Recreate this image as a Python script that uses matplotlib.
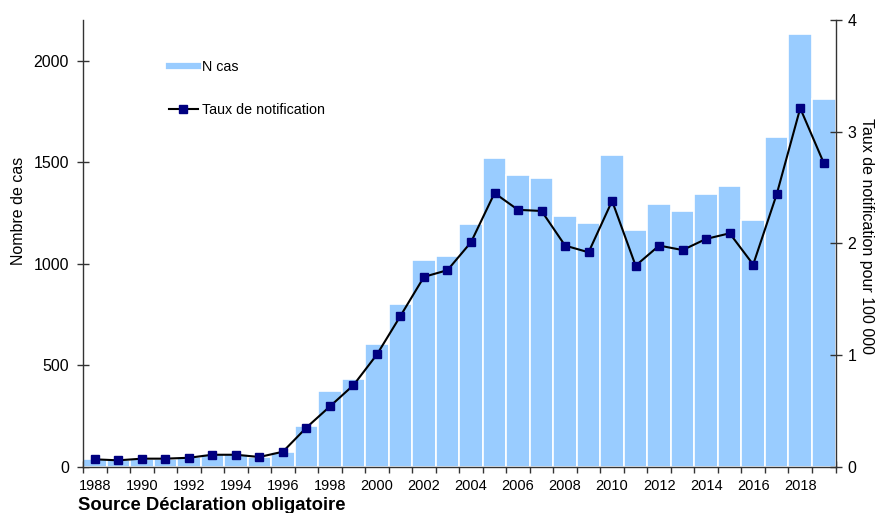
import matplotlib
matplotlib.use("Agg")
import matplotlib.pyplot as plt
from matplotlib.lines import Line2D
import numpy as np

years = list(range(1988, 2020))
n_cas = [38, 34, 40, 40, 46, 62, 62, 50, 74, 200, 374, 433, 603, 800, 1016, 1037,
         1197, 1521, 1439, 1424, 1237, 1202, 1536, 1164, 1295, 1257, 1342, 1383, 1213, 1626, 2129, 1809]
taux = [0.066, 0.057, 0.072, 0.072, 0.080, 0.107, 0.107, 0.087, 0.134, 0.35, 0.54, 0.73, 1.005, 1.35, 1.70, 1.76,
        2.01, 2.45, 2.30, 2.29, 1.98, 1.92, 2.38, 1.80, 1.98, 1.94, 2.04, 2.09, 1.81, 2.44, 3.21, 2.72]
label_years = [y for y in years if y % 2 == 0]

plt.rcParams['font.family'] = ['Liberation Sans', 'DejaVu Sans']

fig = plt.figure(figsize=(8.82, 5.13), dpi=100)
ax = fig.add_axes([83/882, 1-466.7/513, (835.5-83)/882, (466.7-20)/513])
ax2 = ax.twinx()

bar_color = '#99CCFF'
ax.bar(years, n_cas, width=1.0, color=bar_color, edgecolor='white', linewidth=1.2, zorder=2)
ax2.plot(years, taux, color='black', linewidth=1.5, marker='s', markersize=5.5,
         markerfacecolor='#000080', markeredgecolor='#000080', zorder=3)

ax.set_xlim(years[0]-0.5, years[-1]+0.5)
ax.set_ylim(0, 2200)
ax2.set_ylim(0, 4)

spine_col = '#333333'
for a in (ax, ax2):
    a.spines['top'].set_visible(False)
    for s in a.spines.values():
        s.set_color(spine_col)
        s.set_linewidth(1.0)
ax2.spines['left'].set_visible(False)
ax2.spines['bottom'].set_visible(False)
ax.spines['right'].set_visible(False)

ax.set_yticks([0, 500, 1000, 1500, 2000])
ax2.set_yticks([0, 1, 2, 3, 4])
ax.tick_params(axis='y', direction='inout', length=9, width=1, colors=spine_col,
               labelcolor='black', labelsize=11.5, pad=5.5)
ax2.tick_params(axis='y', direction='inout', length=9, width=1, colors=spine_col,
                labelcolor='black', labelsize=11.5, pad=4)

bounds = [y - 0.5 for y in years] + [years[-1] + 0.5]
ax.set_xticks(bounds)
ax.set_xticklabels([''] * len(bounds))
ax.set_xticks(label_years, minor=True)
ax.set_xticklabels([str(y) for y in label_years], minor=True)
ax.tick_params(axis='x', which='major', direction='inout', length=9, width=1, colors=spine_col)
ax.tick_params(axis='x', which='minor', length=0, labelsize=10.5, pad=9, labelcolor='black')

ax.set_ylabel('Nombre de cas', fontsize=11.5, va='center')
ax.yaxis.set_label_coords(-64.5/752.5, (466.7-211)/446.7)
ax2.set_ylabel('Taux de notification pour 100 000', fontsize=11.5, rotation=270, va='center')
ax2.yaxis.set_label_coords(1 + 31/752.5, (466.7-236.5)/446.7)

handles = [Line2D([0], [0], color=bar_color, lw=4.5),
           Line2D([0], [0], color='black', lw=1.5, marker='s', markersize=5.5,
                  markerfacecolor='#000080', markeredgecolor='#000080')]
leg = ax2.legend(handles, ['N cas', 'Taux de notification'], loc='upper left',
                 bbox_to_anchor=(169/882, 1-60/513), bbox_transform=fig.transFigure,
                 frameon=False, fontsize=10.3, handlelength=2.0, handletextpad=0.3,
                 labelspacing=2.05, borderpad=0, borderaxespad=0)

fig.text(78/882, 1-505/513, 'Source Déclaration obligatoire', fontsize=13.3,
         fontweight='bold', ha='left', va='center')

fig.savefig('out.png', dpi=100)
